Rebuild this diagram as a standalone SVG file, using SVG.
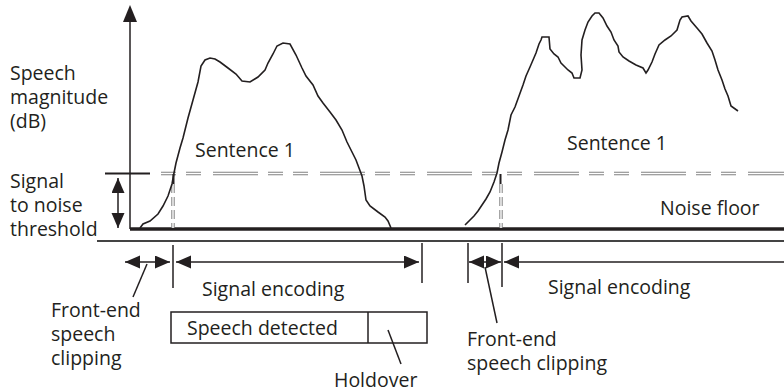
<svg xmlns="http://www.w3.org/2000/svg" width="784" height="392" viewBox="0 0 784 392">
<style>
text{font-family:"Open Sans","Noto Sans","Liberation Sans",sans-serif;font-size:19.5px;fill:#231f20}
.ln{stroke:#231f20;stroke-width:1.5;fill:none}
.curve{stroke:#231f20;stroke-width:1.6;fill:none;stroke-linejoin:miter}
.dashO{stroke:#808080;stroke-width:3.4;fill:none;stroke-dasharray:45 10 15 10 15 12;stroke-dashoffset:54}
.dashI{stroke:#fff;stroke-width:1.4;fill:none;stroke-dasharray:45 10 15 10 15 12;stroke-dashoffset:54}
.vdO{stroke:#808080;stroke-width:3.4;fill:none;stroke-dasharray:9 4}
.vdI{stroke:#fff;stroke-width:1.4;fill:none;stroke-dasharray:9 4}
.ah{fill:#231f20}
</style>
<defs>
<marker id="arr" markerUnits="userSpaceOnUse" markerWidth="16" markerHeight="14" refX="15" refY="6.5" orient="auto-start-reverse" viewBox="0 0 16 14">
<path d="M0,0 L15,6.5 L0,13 z" fill="#231f20"/>
</marker>
</defs>
<g id="axes">
<line class="ln" x1="130" y1="18" x2="130" y2="229"/>
<path class="ah" d="M130,5 L137,22 L123,22 z"/>
<line x1="130" y1="229" x2="784" y2="229" stroke="#231f20" stroke-width="3.5"/>
<line x1="97" y1="241" x2="784" y2="241" stroke="#444" stroke-width="2"/>
<line x1="105" y1="173.5" x2="150" y2="173.5" stroke="#231f20" stroke-width="2"/>
<line class="dashO" x1="160" y1="173.5" x2="784" y2="173.5"/>
<line class="dashI" x1="160" y1="173.5" x2="784" y2="173.5"/>
<line class="vdO" x1="173" y1="184" x2="173" y2="228"/>
<line class="vdI" x1="173" y1="184" x2="173" y2="228"/>
<line class="vdO" x1="501" y1="184" x2="501" y2="228"/>
<line class="vdI" x1="501" y1="184" x2="501" y2="228"/>
</g>
<g id="curve1">
<polyline class="curve" points="140,228 143,224 150,221 158,214 163,206 168,196 172,184 174,173 176,163 180,148 183,138 188,118 193,100 198,82 201,66 205,60 210,58 215,59 220,62 228,68 236,74 242,81 250,82 258,77 265,70 268,63 273,54 277,46 283,43 290,44 296,55 302,68 306,76 313,85 318,96 323,103 330,112 336,120 342,130 347,142 352,152 356,160 359,168 362,176 364,186 366,200 370,206 378,212 385,217 388,221 391,228"/>
<line x1="173.5" y1="174" x2="173.5" y2="184" stroke="#231f20" stroke-width="2"/>
</g>
<g id="curve2">
<polyline class="curve" points="465,225 470,220 474,216 478,211 482,205 486,199 490,192 494,182 497,173 499,163 502,152 505,140 508,130 511,115 515,107 519,96 523,85 526,76 530,67 533,60 536,53 539,44 541,40 542,37 549,37 550,49 554,54 558,57 561,63 565,67 568,70 572,73 574,78 580,78 582,70 581,55 582,40 585,30 588,22 592,16 595,13 599,13 603,18 607,26 611,32 614,40 618,46 619,52 623,57 629,61 636,65 643,68 646,73 648,70 652,62 655,54 659,45 665,40 671,36 677,30 680,20 682,17 688,16 691,21 697,28 702,34 707,43 712,51 715,60 718,70 722,80 725,89 728,96 731,106 738,111"/>
<line x1="500.5" y1="174" x2="500.5" y2="184" stroke="#231f20" stroke-width="2"/>
</g>
<g id="snr-arrow">
<line class="ln" x1="118" y1="178" x2="118" y2="228" marker-start="url(#arr)" marker-end="url(#arr)"/>
</g>
<g id="connectors">
<line class="ln" x1="125" y1="262" x2="170" y2="262" marker-start="url(#arr)" marker-end="url(#arr)"/>
<line class="ln" x1="173" y1="245" x2="173" y2="288"/>
<line class="ln" x1="176" y1="262" x2="419" y2="262" marker-start="url(#arr)" marker-end="url(#arr)"/>
<line class="ln" x1="422" y1="243" x2="422" y2="283"/>
<line class="ln" x1="468" y1="243" x2="468" y2="283"/>
<line class="ln" x1="469" y1="262" x2="501" y2="262" marker-start="url(#arr)" marker-end="url(#arr)"/>
<line class="ln" x1="502" y1="243" x2="502" y2="287"/>
<line class="ln" x1="504" y1="262" x2="784" y2="262" marker-start="url(#arr)"/>
<line class="ln" x1="147" y1="264" x2="133" y2="297"/>
<line class="ln" x1="485" y1="267" x2="497" y2="323"/>
<line class="ln" x1="388" y1="330" x2="401" y2="364"/>
</g>
<g id="labels-left">
<text x="10" y="80">Speech</text>
<text x="10" y="104">magnitude</text>
<text x="10" y="128">(dB)</text>
<text x="10" y="188">Signal</text>
<text x="10" y="212">to noise</text>
<text x="10" y="236">threshold</text>
</g>
<g id="sentence1-left"><text x="195" y="157">Sentence 1</text></g>
<g id="sentence1-right"><text x="567" y="150">Sentence 1</text></g>
<g id="noise-floor"><text x="660" y="215">Noise floor</text></g>
<g id="signal-encoding-left"><text x="202" y="296">Signal encoding</text></g>
<g id="signal-encoding-right"><text x="548" y="294">Signal encoding</text></g>
<g id="clipping-left">
<text x="51" y="317">Front-end</text>
<text x="51" y="341">speech</text>
<text x="51" y="365">clipping</text>
</g>
<g id="clipping-right">
<text x="467" y="346">Front-end</text>
<text x="467" y="370">speech clipping</text>
</g>
<g id="speech-detected">
<rect x="171" y="312" width="256" height="31" fill="none" stroke="#231f20" stroke-width="1.5"/>
<line class="ln" x1="368" y1="312" x2="368" y2="343"/>
<text x="187" y="335">Speech detected</text>
</g>
<g id="holdover"><text x="334" y="387">Holdover</text></g>
</svg>
